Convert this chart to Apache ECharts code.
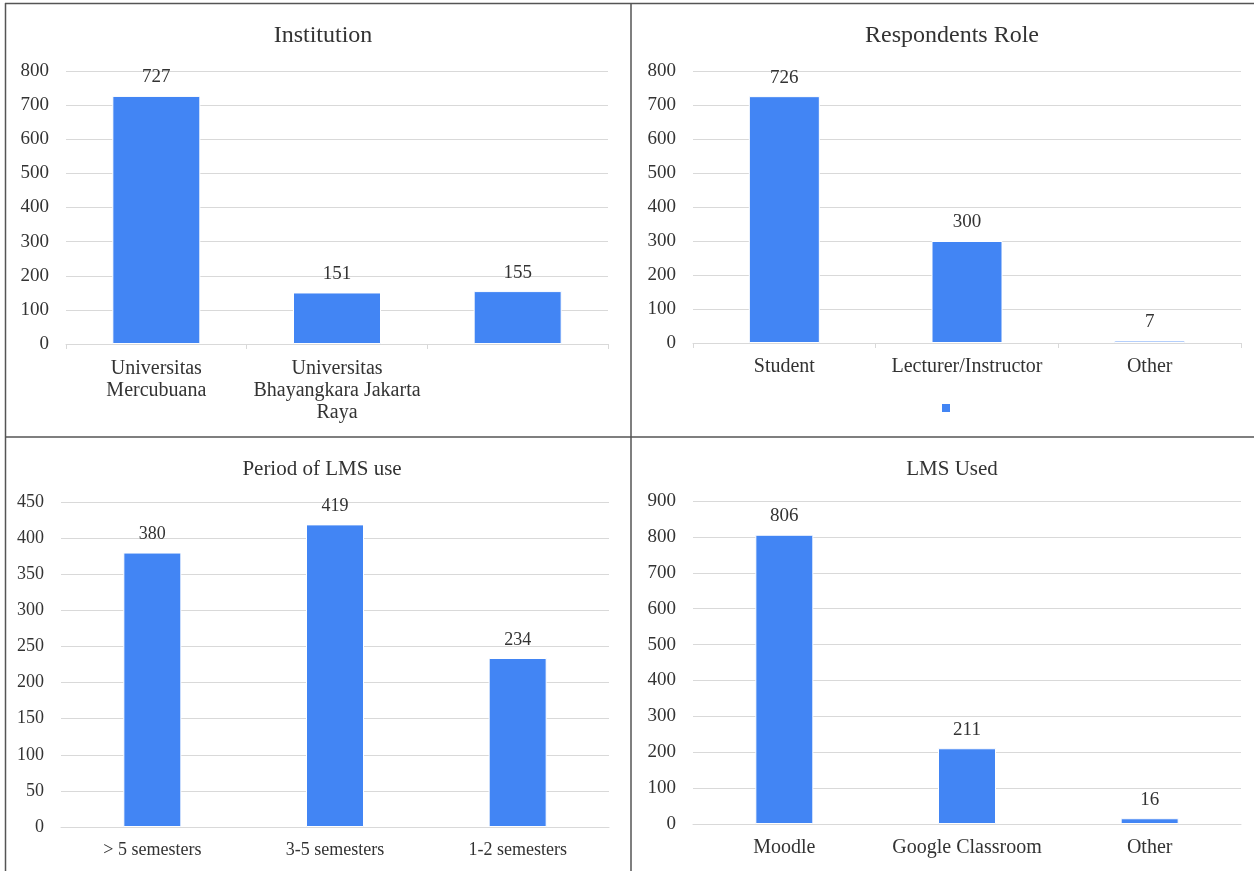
<!DOCTYPE html>
<html>
<head>
<meta charset="utf-8">
<script src="https://cdn.jsdelivr.net/npm/echarts@6/dist/echarts.min.js"></script>
<style>
html,body{margin:0;padding:0;background:#fff;}
#c{width:1254px;height:871px;}
</style>
</head>
<body>
<div id="c"></div>
<script>
// ---- data ----
const instCategories = ['Universitas\nMercubuana', 'Universitas\nBhayangkara Jakarta\nRaya', ''];
const instValues = [727, 151, 155];
const roleCategories = ['Student', 'Lecturer/Instructor', 'Other'];
const roleValues = [726, 300, 7];
const periodCategories = ['> 5 semesters', '3-5 semesters', '1-2 semesters'];
const periodValues = [380, 419, 234];
const lmsCategories = ['Moodle', 'Google Classroom', 'Other'];
const lmsValues = [806, 211, 16];
const titles = ['Institution', 'Respondents Role', 'Period of LMS use', 'LMS Used'];

const FONT = '"Liberation Serif", "Times New Roman", serif';
const TXT = '#333333';
const BLUE = '#4285f4';
const GRIDC = '#d9d9d9';

const panels = [
  {cats: instCategories, vals: instValues, max: 800, interval: 100, grid: {left: 66, top: 71, width: 542, height: 273}, title: {x: 318, y: 19, size: 24}, tick: 19, cat: 20, catMargin: 14, lab: 19, barW: 88, ticks: true},
  {cats: roleCategories, vals: roleValues, max: 800, interval: 100, grid: {left: 693, top: 71, width: 548, height: 272}, title: {x: 947, y: 19, size: 24}, tick: 19, cat: 20, catMargin: 13, lab: 19, barW: 71, ticks: true},
  {cats: periodCategories, vals: periodValues, max: 450, interval: 50, grid: {left: 61, top: 502, width: 548, height: 325}, title: {x: 317, y: 454, size: 21}, tick: 18, cat: 18, catMargin: 12, lab: 18, barW: 58, ticks: false},
  {cats: lmsCategories, vals: lmsValues, max: 900, interval: 100, grid: {left: 693, top: 501, width: 548, height: 323}, title: {x: 947, y: 454, size: 21}, tick: 19, cat: 20, catMargin: 13, lab: 19, barW: 58, ticks: false}
];

const option = {
  animation: false,
  textStyle: {fontFamily: FONT},
  title: panels.map((p, i) => ({
    text: titles[i], left: p.title.x, top: p.title.y, textAlign: 'center',
    textStyle: {fontFamily: FONT, fontSize: p.title.size, fontWeight: 'normal', color: TXT}
  })),
  legend: {
    data: [' '], left: 937, top: 397, itemWidth: 8, itemHeight: 8, icon: 'rect', itemGap: 0,
    itemStyle: {borderWidth: 0},
    textStyle: {fontSize: 12, color: 'rgba(0,0,0,0)'}, selectedMode: false
  },
  grid: panels.map(p => Object.assign({containLabel: false}, p.grid)),
  xAxis: panels.map((p, i) => ({
    type: 'category', gridIndex: i, data: p.cats,
    axisLine: {show: true, lineStyle: {color: GRIDC, width: 1}},
    axisTick: {show: p.ticks, length: 5, lineStyle: {color: GRIDC}},
    axisLabel: {fontFamily: FONT, fontSize: p.cat, color: TXT, margin: p.catMargin, lineHeight: 22, interval: 0}
  })),
  yAxis: panels.map((p, i) => ({
    type: 'value', gridIndex: i, min: 0, max: p.max, interval: p.interval,
    axisLine: {show: false}, axisTick: {show: false},
    splitLine: {lineStyle: {color: GRIDC, width: 1}},
    axisLabel: {fontFamily: FONT, fontSize: p.tick, color: TXT, margin: 17}
  })),
  series: panels.map((p, i) => ({
    name: i === 1 ? ' ' : 'v' + i,
    type: 'bar', xAxisIndex: i, yAxisIndex: i, data: p.vals, barWidth: p.barW,
    itemStyle: {color: BLUE, borderColor: '#ffffff', borderWidth: 1},
    label: {show: true, position: 'top', distance: 9, fontFamily: FONT, fontSize: p.lab, color: TXT}
  })),
  graphic: [
    {type: 'line', shape: {x1: 5, y1: 3.5, x2: 1254, y2: 3.5}, style: {stroke: '#555', lineWidth: 1.5}, silent: true},
    {type: 'line', shape: {x1: 5.5, y1: 3, x2: 5.5, y2: 871}, style: {stroke: '#555', lineWidth: 1.5}, silent: true},
    {type: 'line', shape: {x1: 631, y1: 3, x2: 631, y2: 871}, style: {stroke: '#555', lineWidth: 1.5}, silent: true},
    {type: 'line', shape: {x1: 5, y1: 437, x2: 1254, y2: 437}, style: {stroke: '#555', lineWidth: 1.5}, silent: true}
  ]
};

const chart = echarts.init(document.getElementById('c'), null, {renderer: 'canvas'});
chart.setOption(option);
</script>
</body>
</html>
